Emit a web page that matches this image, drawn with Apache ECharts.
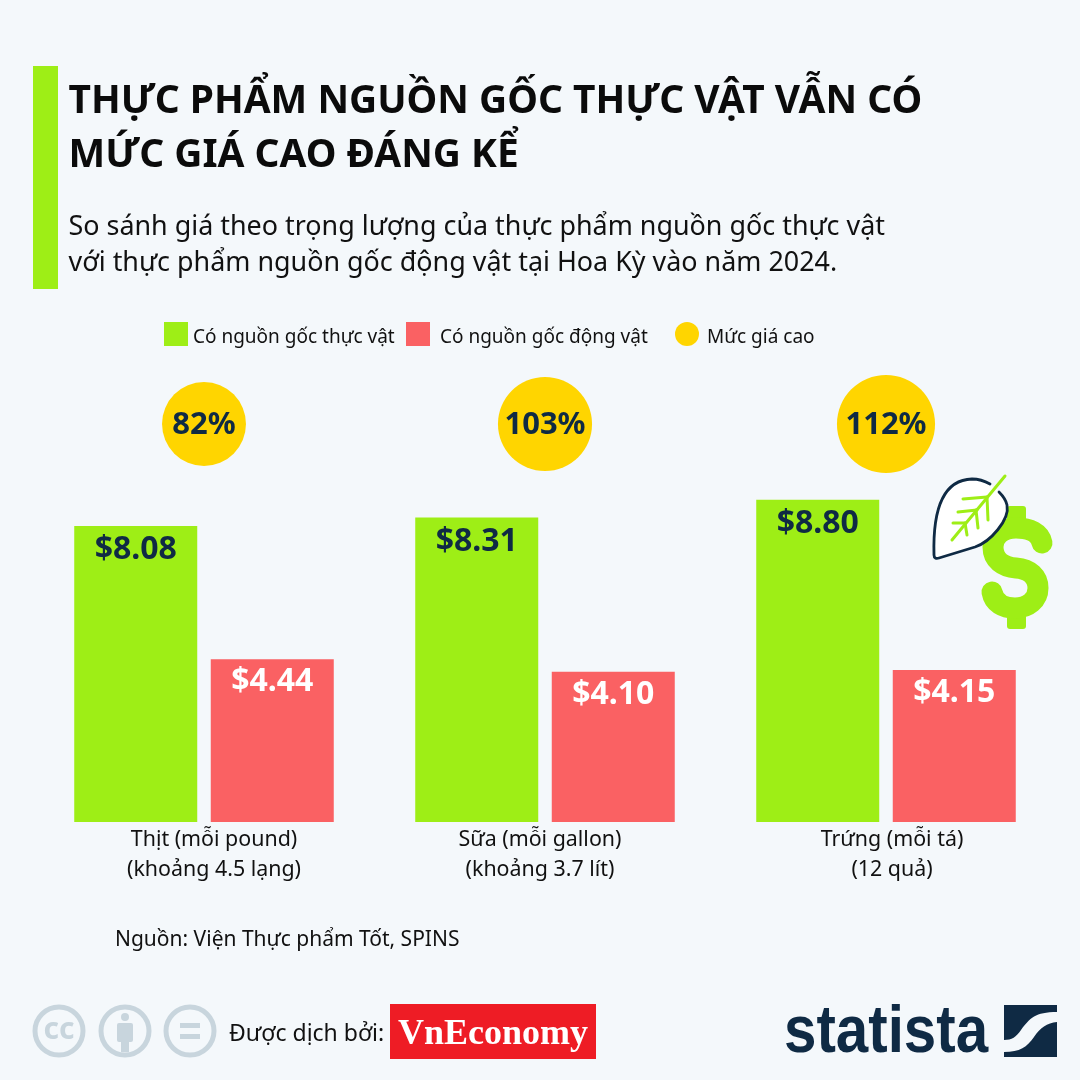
<!DOCTYPE html>
<html>
<head>
<meta charset="utf-8">
<style>
html,body{margin:0;padding:0;background:#f4f8fb;}
#chart{width:1080px;height:1080px;}
</style>
<script src="https://cdn.jsdelivr.net/npm/echarts@6/dist/echarts.min.js"></script>
</head>
<body>
<div id="chart"></div>
<script>
var categories = ['Thịt (mỗi pound)\n(khoảng 4.5 lạng)', 'Sữa (mỗi gallon)\n(khoảng 3.7 lít)', 'Trứng (mỗi tá)\n(12 quả)'];
var plantValues = [8.08, 8.31, 8.80];
var animalValues = [4.44, 4.10, 4.15];
var premiumValues = [82, 103, 112];
var seriesNames = ['Có nguồn gốc thực vật', 'Có nguồn gốc động vật', 'Mức giá cao'];

var FONT = '"Noto Sans", sans-serif';
var NAVY = '#0f2a44', GREEN = '#9eee16', RED = '#fa6163', YELLOW = '#ffd500', GREY = '#c8d5dd';
var yMax = 10.866; // bong bong nam o mep tren cua truc
// lech nhan truc x so voi tam cot, giong ban goc
var labelStyle = ['c0', 'c1', 'c2'];

// graphic khong co san kieu path, tu dang ky mot shape doc chuoi M/C/L/H/V/Z
echarts.graphic.registerShape('iconPath', echarts.graphic.extendShape({
    shape: {d: ''},
    buildPath: function (ctx, shape) {
        var tok = shape.d.match(/[MCLHVZ]|-?[\d.]+/g), i = 0, x = 0, y = 0, cmd;
        function n() { return parseFloat(tok[i++]); }
        while (i < tok.length) {
            if (/[MCLHVZ]/.test(tok[i])) cmd = tok[i++];
            if (cmd === 'M') { x = n(); y = n(); ctx.moveTo(x, y); }
            else if (cmd === 'L') { x = n(); y = n(); ctx.lineTo(x, y); }
            else if (cmd === 'H') { x = n(); ctx.lineTo(x, y); }
            else if (cmd === 'V') { y = n(); ctx.lineTo(x, y); }
            else if (cmd === 'C') { var a = n(), b = n(), c = n(), d = n(); x = n(); y = n(); ctx.bezierCurveTo(a, b, c, d, x, y); }
            else if (cmd === 'Z') { ctx.closePath(); }
        }
    }
}));

function text(x, y, s, size, weight, color, extra) {
    var st = {x: x, y: y, text: s, fontFamily: FONT, fontSize: size, fontWeight: weight, fill: color, textVerticalAlign: 'middle'};
    for (var k in extra) st[k] = extra[k];
    return {type: 'text', style: st};
}
function stroke(d, color, w) {
    return {type: 'iconPath', shape: {d: d}, style: {fill: 'none', stroke: color, lineWidth: w, lineCap: 'round', lineJoin: 'round'}};
}
function line(x1, y1, x2, y2, color, w) {
    return {type: 'line', shape: {x1: x1, y1: y1, x2: x2, y2: y2}, style: {stroke: color, lineWidth: w, lineCap: 'round'}};
}
function rect(x, y, w, h, color, r) {
    return {type: 'rect', shape: {x: x, y: y, width: w, height: h, r: r || 0}, style: {fill: color}};
}
function ring(x, y, r) {
    return {type: 'circle', shape: {cx: x, cy: y, r: r}, style: {fill: 'none', stroke: GREY, lineWidth: 5}};
}
function poly(d, color) {
    return {type: 'iconPath', shape: {d: d}, style: {fill: color}};
}

var graphics = [
    rect(33, 66, 25, 223, GREEN),
    text(68.5, 102, 'THỰC PHẨM NGUỒN GỐC THỰC VẬT VẪN CÓ', 38.9, 700, '#0b0b0b'),
    text(68.5, 156, 'MỨC GIÁ CAO ĐÁNG KỂ', 38.9, 700, '#0b0b0b'),
    text(68.5, 227, 'So sánh giá theo trọng lượng của thực phẩm nguồn gốc thực vật', 26.9, 400, '#111'),
    text(68.5, 263, 'với thực phẩm nguồn gốc động vật tại Hoa Kỳ vào năm 2024.', 26.9, 400, '#111'),
    text(115, 940, 'Nguồn: Viện Thực phẩm Tốt, SPINS', 21, 400, '#111'),

    // dong do la
    rect(1007, 506, 19, 24, GREEN, 3),
    rect(1007, 605, 19, 24, GREEN, 3),
    stroke('M1042,543 C1040,533 1030,528 1016,528 C1002,528 993,536 993,547 C993,560 1003,567 1016,568 C1030,569 1038,577 1038,588 C1038,600 1028,608 1015,608 C1003,608 994,603 992,592', GREEN, 21),
    // chiec la
    poly('M936,558 C933,520 938,480 972,479 C985,478 1000,488 1006,505 C1010,520 990,542 975,547 L938,559 Z', '#fff'),
    stroke('M990,484 C983,480 978,479 972,479 C938,480 933,520 934,555 C934,558 936,559 939,558 L975,547 C990,542 1010,520 1007,505 C1006,500 1003,496 999,492', NAVY, 2.8),
    line(1005, 476, 952, 540, GREEN, 3),
    line(987, 497, 963, 499, GREEN, 3),
    line(987, 497, 988, 520, GREEN, 3),
    line(977, 510, 958, 512, GREEN, 3),
    line(976, 510, 978, 528, GREEN, 3),
    line(965, 523, 953, 523, GREEN, 3),
    line(965, 523, 967, 535, GREEN, 3),

    // cc by nd
    ring(59, 1031, 24),
    text(59, 1030, 'cc', 30, 700, GREY, {textAlign: 'center'}),
    ring(125, 1031, 24),
    {type: 'circle', shape: {cx: 125, cy: 1017, r: 4}, style: {fill: GREY}},
    rect(117, 1023, 16, 19, GREY, 2),
    rect(121, 1040, 8, 12, GREY),
    ring(190, 1031, 24),
    rect(180, 1023, 20, 5, GREY),
    rect(180, 1034, 20, 5, GREY),

    text(229, 1034, 'Được dịch bởi:', 23, 400, '#111'),
    rect(390, 1004, 206, 55, '#ee1c25'),
    text(493, 1035, 'VnEconomy', 36, 700, '#fff', {fontFamily: '"Liberation Serif", serif', textAlign: 'center'}),

    // statista
    {type: 'text', x: 784, y: 1034, scaleX: 0.87, style: {x: 0, y: 0, text: 'statista', fontFamily: '"Liberation Sans", sans-serif', fontSize: 67, fontWeight: 700, fill: NAVY, textVerticalAlign: 'middle'}},
    poly('M1004,1005 H1057 V1012 C1035,1012 1030,1018 1021,1030 C1016,1037 1012,1040 1004,1040 Z', NAVY),
    poly('M1057,1022 V1057 H1004 V1052 C1020,1052 1027,1047 1034,1037 C1040,1028 1047,1023 1057,1022 Z', NAVY)
];

function catLabel(v, i) {
    var parts = v.split('\n');
    return '{' + labelStyle[i] + '|' + parts[0] + '}\n{' + labelStyle[i] + '|' + parts[1] + '}';
}
function labelRich(padLeft, padRight) {
    return {fontFamily: FONT, fontSize: 21.4, lineHeight: 30, color: '#111', padding: [0, padRight, 0, padLeft]};
}
// chu chu thich nam thap hon tam icon mot chut
function legendItem(i, left, icon, padLeft) {
    return {
        data: [seriesNames[i]], left: left, top: 322, padding: 0, itemWidth: 24, itemHeight: 24, icon: icon, selectedMode: false,
        formatter: function (name) { return '{t|' + name + '}'; },
        textStyle: {rich: {t: {fontFamily: FONT, fontSize: 19, color: '#111', padding: [8, 0, 0, padLeft]}}}
    };
}

var option = {
    backgroundColor: '#f4f8fb',
    animation: false,
    textStyle: {fontFamily: FONT},
    legend: [legendItem(0, 164, 'rect', 0), legendItem(1, 406, 'rect', 5), legendItem(2, 675, 'circle', 3)],
    grid: {left: 33.5, width: 1023, top: 424, bottom: 258},
    xAxis: {
        type: 'category',
        data: categories,
        axisLine: {show: false},
        axisTick: {show: false},
        axisLabel: {
            interval: 0,
            margin: 3,
            formatter: catLabel,
            rich: {c0: labelRich(20, 0), c1: labelRich(0, 10), c2: labelRich(12, 0)}
        }
    },
    yAxis: {type: 'value', min: 0, max: yMax, show: false, splitLine: {show: false}},
    series: [
        {
            name: seriesNames[0],
            type: 'bar',
            data: plantValues,
            barWidth: 123,
            barGap: '11%',
            itemStyle: {color: GREEN},
            label: {show: true, position: 'insideTop', distance: 8, fontFamily: FONT, fontSize: 32, fontWeight: 700, color: NAVY,
                formatter: function (p) { return '$' + p.value.toFixed(2); }}
        },
        {
            name: seriesNames[1],
            type: 'bar',
            data: animalValues,
            barWidth: 123,
            itemStyle: {color: RED},
            label: {show: true, position: 'insideTop', distance: 7, fontFamily: FONT, fontSize: 32, fontWeight: 700, color: '#fff',
                formatter: function (p) { return '$' + p.value.toFixed(2); }}
        },
        {
            name: seriesNames[2],
            type: 'scatter',
            clip: false,
            data: premiumValues.map(function (v, i) { return {value: [i, yMax], pct: v}; }),
            symbolSize: function (v, p) { return Math.sqrt(premiumValues[p.dataIndex]) * 9.27; },
            itemStyle: {color: YELLOW, opacity: 1},
            label: {show: true, position: 'inside', offset: [0, 1], fontFamily: FONT, fontSize: 31, fontWeight: 700, color: NAVY,
                formatter: function (p) { return premiumValues[p.dataIndex] + '%'; }}
        }
    ],
    graphic: {elements: graphics}
};

var chart = echarts.init(document.getElementById('chart'));
chart.setOption(option);
</script>
</body>
</html>
